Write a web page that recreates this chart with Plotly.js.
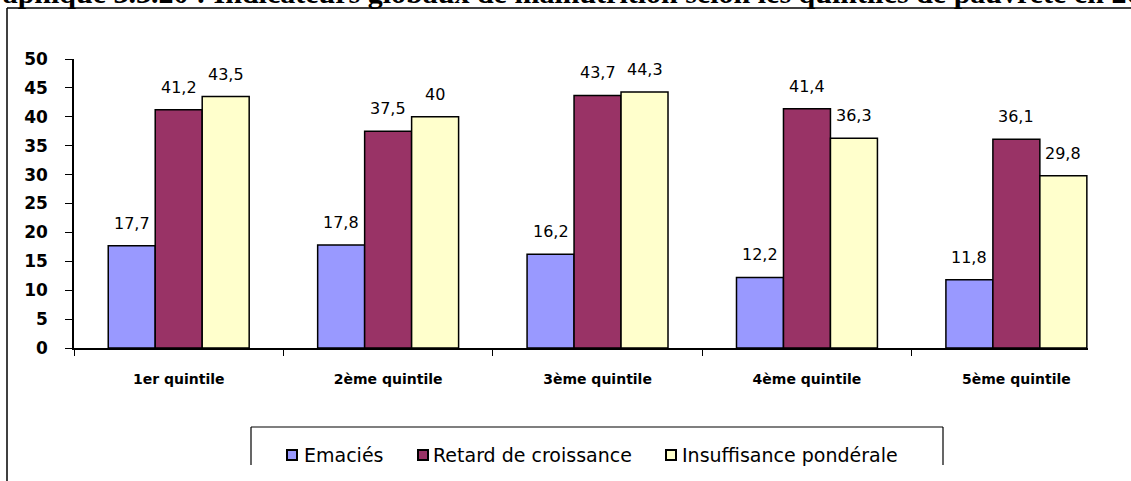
<!DOCTYPE html>
<html>
<head>
<meta charset="utf-8">
<script src="https://cdn.plot.ly/plotly-3.0.1.min.js"></script>
<style>html,body{margin:0;padding:0;background:#fff;}#chart{width:1131px;height:481px;}</style>
</head>
<body>
<div id="chart"></div>
<script>
const categories = ["1er quintile", "2ème quintile", "3ème quintile", "4ème quintile", "5ème quintile"];
const seriesNames = ["Emaciés", "Retard de croissance", "Insuffisance pondérale"];
const emacies = [17.7, 17.8, 16.2, 12.2, 11.8];
const retard = [41.2, 37.5, 43.7, 41.4, 36.1];
const insuffisance = [43.5, 40, 44.3, 36.3, 29.8];
const yTicks = [0, 5, 10, 15, 20, 25, 30, 35, 40, 45, 50];
const titleText = "Graphique 3.3.20 : Indicateurs globaux de malnutrition selon les quintiles de pauvreté en 2005";

const colors = ["#9999FF", "#993366", "#FFFFCC"];
const values = [emacies, retard, insuffisance];
const fmt = v => String(v).replace(".", ",");

// plot area in pixels
const L = 74, R = 1088, T = 59, B = 348;
const px = x => (x - L) / (R - L);
const py = y => (B - y) / (B - T);
const xRange = [-0.5, 4.342];
const bargap = 0.327;
const unitPx = (R - L) / (xRange[1] - xRange[0]);
const barPx = unitPx * (1 - bargap) / values.length;

const traces = values.map((vals, i) => ({
  type: "bar",
  name: seriesNames[i],
  x: categories,
  y: vals,
  marker: {color: colors[i], line: {color: "#000", width: 1.5}},
  showlegend: false,
  hoverinfo: "x+y+name"
}));

const labelFont = {family: "DejaVu Sans, Arial, sans-serif", size: 16, color: "#000"};
const annotations = [];
values.forEach((vals, i) => {
  vals.forEach((v, j) => {
    annotations.push({
      x: categories[j], y: v, xref: "x", yref: "y",
      text: fmt(v), showarrow: false,
      xanchor: "center", yanchor: "bottom",
      xshift: (i - (values.length - 1) / 2) * barPx, yshift: 11,
      font: labelFont
    });
  });
});

// title (cut by the top edge, as in the reference)
annotations.push({
  text: titleText, showarrow: false,
  xref: "paper", yref: "paper",
  x: px(-36), xanchor: "left",
  y: py(11), yanchor: "bottom",
  font: {family: "Liberation Serif, Times New Roman, serif", size: 30, color: "#000", weight: "bold"}
});

// legend (drawn by hand to follow the reference spacing)
const legendTextX = [302, 431, 680];
const legendBoxX = [287, 418, 666];
const legendY = 455;
const legendShapes = [];
seriesNames.forEach((name, i) => {
  annotations.push({
    text: name, showarrow: false, xref: "paper", yref: "paper",
    x: px(legendTextX[i]), xanchor: "left", y: py(legendY), yanchor: "middle",
    font: {family: "DejaVu Sans, Arial, sans-serif", size: 19, color: "#000"}
  });
  legendShapes.push({
    type: "rect", xref: "paper", yref: "paper",
    x0: px(legendBoxX[i]), x1: px(legendBoxX[i] + 10),
    y0: py(legendY - 5), y1: py(legendY + 5),
    fillcolor: colors[i], line: {color: "#000", width: 2}
  });
});

const layout = {
  width: 1131, height: 481,
  margin: {l: L, r: 1131 - R, t: T, b: 481 - B, pad: 0},
  paper_bgcolor: "#fff", plot_bgcolor: "#fff",
  barmode: "group", bargap: bargap, bargroupgap: 0,
  showlegend: false,
  font: {family: "DejaVu Sans, Arial, sans-serif", color: "#000"},
  xaxis: {
    type: "category",
    range: xRange,
    showline: true, linecolor: "#000", linewidth: 1.5,
    ticks: "outside", tickson: "boundaries", ticklen: 6, tickcolor: "#000", tickwidth: 1.2,
    ticklabelstandoff: 17,
    tickfont: {family: "DejaVu Sans, Arial, sans-serif", size: 14, color: "#000", weight: "bold"},
    showgrid: false, zeroline: false, fixedrange: true
  },
  yaxis: {
    range: [0, 50],
    tickvals: yTicks, ticktext: yTicks.map(String),
    showline: true, linecolor: "#000", linewidth: 1.5,
    ticks: "outside", ticklen: 7, tickcolor: "#000", tickwidth: 1.2,
    ticklabelstandoff: 14,
    tickfont: {family: "DejaVu Sans, Arial, sans-serif", size: 17, color: "#000", weight: "bold"},
    showgrid: false, zeroline: false, fixedrange: true
  },
  annotations: annotations,
  shapes: [
    // outer frame (top and left edges)
    {type: "line", xref: "paper", yref: "paper", x0: px(7), x1: px(1131), y0: py(8), y1: py(8), line: {color: "#000", width: 1.5}},
    {type: "line", xref: "paper", yref: "paper", x0: px(7), x1: px(7), y0: py(8), y1: py(481), line: {color: "#000", width: 1.5}},
    // legend box (cut at the bottom)
    {type: "line", xref: "paper", yref: "paper", x0: px(251), x1: px(943), y0: py(427), y1: py(427), line: {color: "#000", width: 1.2}},
    {type: "line", xref: "paper", yref: "paper", x0: px(251), x1: px(251), y0: py(427), y1: py(465), line: {color: "#000", width: 1.2}},
    {type: "line", xref: "paper", yref: "paper", x0: px(943), x1: px(943), y0: py(427), y1: py(465), line: {color: "#000", width: 1.2}}
  ].concat(legendShapes)
};

Plotly.newPlot("chart", traces, layout, {displayModeBar: false});
</script>
</body>
</html>
